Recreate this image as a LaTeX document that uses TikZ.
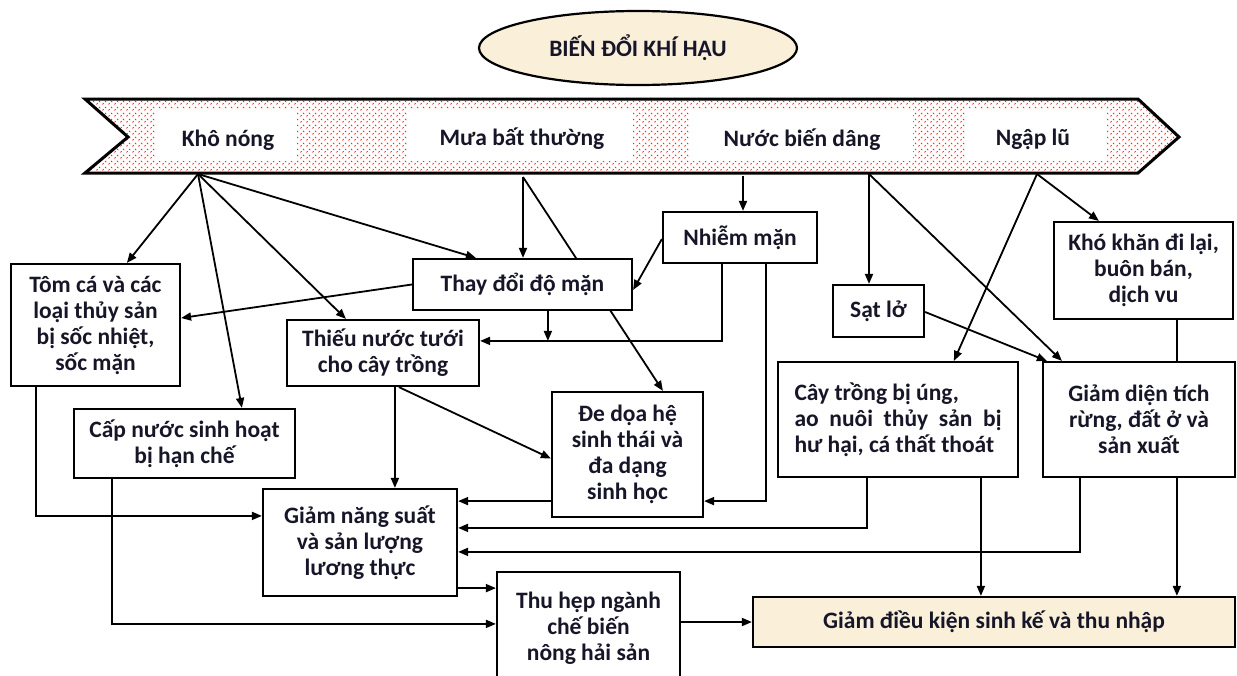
\documentclass[tikz,border=0pt]{standalone}
\usepackage{fontspec}
\setmainfont{Carlito}
\usetikzlibrary{arrows.meta,shapes.geometric,calc,backgrounds,patterns}

% small red confetti marks used to fill the hazard band
\pgfdeclarepatternformonly{confetti}{\pgfpointorigin}{\pgfpoint{6pt}{6pt}}{\pgfpoint{6pt}{6pt}}{%
  \pgfsetlinewidth{0.85pt}%
  \pgfpathmoveto{\pgfpoint{0.5pt}{0.7pt}}\pgfpathlineto{\pgfpoint{1.9pt}{2.1pt}}%
  \pgfpathmoveto{\pgfpoint{3.5pt}{4.7pt}}\pgfpathlineto{\pgfpoint{4.9pt}{3.3pt}}%
  \pgfusepath{stroke}}

\definecolor{ink}{RGB}{22,22,40}
\definecolor{cream}{RGB}{250,240,218}
\definecolor{hatch}{RGB}{240,20,20}

\newcommand\boxfont{\fontsize{23.5}{26}\selectfont\bfseries}

\begin{document}
\begin{tikzpicture}[x=1pt,y=-1pt,
  box/.style={draw=black, line width=2.2pt, fill=white, align=center,
              inner sep=0pt, font=\boxfont, text=ink},
  label/.style={font=\boxfont, text=ink, inner sep=0pt},
  link/.style={line width=1.8pt, draw=black, line join=miter},
  arr/.style={link, -{Triangle[length=10pt,width=8pt]}}]

\useasboundingbox (0,0) rectangle (1237,675);

% title
\node[ellipse, draw=black, line width=2.2pt, fill=cream, inner sep=0pt,
      minimum width=318pt, minimum height=74pt,
      font=\boxfont, text=ink] (clim) at (638,48) {BIẾN ĐỔI KHÍ HẬU};

% hazard band
\def\bandpath{(85,99) -- (1138,99) -- (1179,137) -- (1138,173) -- (85,173) -- (128,137) -- cycle}
\fill[white] \bandpath;
\fill[pattern=confetti, pattern color=hatch] \bandpath;
\fill[white] (155,109) rectangle (297,161);
\fill[white] (408,109) rectangle (633,161);
\fill[white] (690,109) rectangle (913,161);
\fill[white] (965,109) rectangle (1107,161);
\draw[line width=3pt, line join=miter] \bandpath;

\node[label] (kho)  at (228,140) {Khô nóng};
\node[label] (mua)  at (522,139) {Mưa bất thường};
\node[label] (nuoc) at (802,140) {Nước biến dâng};
\node[label] (ngap) at (1033,139) {Ngập lũ};

\coordinate (kS) at (198,174);
\coordinate (mS) at (523,177);
\coordinate (nS1) at (743,176);
\coordinate (nS2) at (869,174);
\coordinate (lS) at (1037,174);

% boxes
\node[box, minimum width=169pt, minimum height=122pt] (tom) at (95.5,325)
  {Tôm cá và các\\loại thủy sản\\bị sốc nhiệt,\\sốc mặn};
\node[box, minimum width=219pt, minimum height=51pt] (thay) at (522.5,284.5) {Thay đổi độ mặn};
\node[box, minimum width=154pt, minimum height=51pt] (nhiem) at (740,237.5) {Nhiễm mặn};
\node[box, minimum width=192pt, minimum height=66pt] (thieu) at (383,353) {Thiếu nước tưới\\cho cây trồng};
\node[box, minimum width=221pt, minimum height=69pt] (cap) at (184.5,443.5) {Cấp nước sinh hoạt\\bị hạn chế};
\node[box, minimum width=151pt, minimum height=125pt] (dedoa) at (627.5,454.5)
  {Đe dọa hệ\\sinh thái và\\đa dạng\\sinh học};
\node[box, minimum width=194pt, minimum height=107pt] (giam) at (360,542.5)
  {Giảm năng suất\\và sản lượng\\lương thực};
\node[box, minimum width=183pt, minimum height=112pt] (thu) at (588.5,628)
  {Thu hẹp ngành\\chế biến\\nông hải sản};
\node[box, fill=cream, minimum width=482pt, minimum height=50pt] (dk) at (994,622)
  {Giảm điều kiện sinh kế và thu nhập};
\node[box, minimum width=91pt, minimum height=52pt] (satlo) at (878.5,311) {Sạt lở};
\node[box, minimum width=179pt, minimum height=97pt] (khokhan) at (1143.5,270.5)
  {Khó khăn đi lại,\\buôn bán,\\dịch vu};
\node[box, minimum width=240pt, minimum height=115pt, align=left] (caytrong) at (898,419.5)
  {Cây trồng bị úng,\\\makebox[207pt][s]{ao nuôi thủy sản bị}\\hư hại, cá thất thoát};
\node[box, minimum width=192pt, minimum height=115pt] (giamdt) at (1139,419.5)
  {Giảm diện tích\\rừng, đất ở và\\sản xuất};

% connectors
\begin{scope}[on background layer]
  % from "Khô nóng"
  \draw[arr] (kS) -- ($(tom.north west)+(117,0)$);
  \draw[arr] (kS) -- ($(cap.north west)+(169,0)$);
  \draw[arr] (kS) -- ($(thieu.north west)+(60,0)$);
  \draw[arr] (kS) -- ($(thay.north west)+(64,0)$);
  % from "Mưa bất thường"
  \draw[arr] (mS) -- (mS |- thay.north);
  \draw[arr] (mS) -- ($(dedoa.north west)+(112,0)$);
  % from "Nước biến dâng"
  \draw[arr] (nS1) -- (nS1 |- nhiem.north);
  \draw[arr] (nS2) -- (nS2 |- satlo.north);
  \draw[arr] (nS2) -- ($(giamdt.north west)+(20,0)$);
  % from "Ngập lũ"
  \draw[arr] (lS) -- ($(caytrong.north west)+(177,0)$);
  \draw[arr] (lS) -- ($(khokhan.north west)+(46,0)$);
  % middle tier
  \draw[arr] ($(satlo.east)+(0,1)$) -- ($(giamdt.north west)+(5,0)$);
  \draw[link] ($(khokhan.south west)+(124,0)$) coordinate (kk) -- (kk |- giamdt.north);
  \draw[arr] ($(nhiem.west)+(0,1.5)$) -- ($(thay.east)+(0,5.5)$);
  \draw[arr] (thay.west) -- ($(tom.east)+(0,-7)$);
  \draw[arr] ($(nhiem.south west)+(60,0)$) |- ($(thieu.north east)+(0,22)$) coordinate (sal);
  \draw[arr] ($(thay.south west)+(136,0)$) coordinate (td) -- (td |- sal);
  \draw[arr] ($(nhiem.south west)+(104,0)$) |- ($(dedoa.south east)+(0,-17)$);
  \draw[arr] ($(thieu.south west)+(109,0)$) coordinate (tn) -- (tn |- giam.north);
  \draw[arr] ($(thieu.south west)+(113,0)$) -- ($(dedoa.west)+(0,4)$);
  % lower tier
  \draw[arr] ($(dedoa.south west)+(0,-17)$) coordinate (dd) -- (dd -| giam.east);
  \draw[arr] ($(caytrong.south west)+(90,0)$) |- ($(giam.north east)+(0,40)$);
  \draw[arr] ($(giamdt.south west)+(38,0)$) |- ($(giam.north east)+(0,64)$);
  \draw[arr] ($(caytrong.south west)+(204,0)$) coordinate (ct) -- (ct |- dk.north);
  \draw[arr] ($(giamdt.south west)+(135,0)$) coordinate (gd) -- (gd |- dk.north);
  \draw[arr] ($(tom.south west)+(26,0)$) |- ($(giam.north west)+(0,28)$);
  \draw[arr] ($(cap.south west)+(39,0)$) |- ($(thu.north west)+(0,53)$);
  \draw[arr] ($(giam.south east)+(0,-9)$) coordinate (gs) -- (gs -| thu.west);
  \draw[arr] (thu.east |- dk.west) -- (dk.west);
\end{scope}
\end{tikzpicture}
\end{document}
